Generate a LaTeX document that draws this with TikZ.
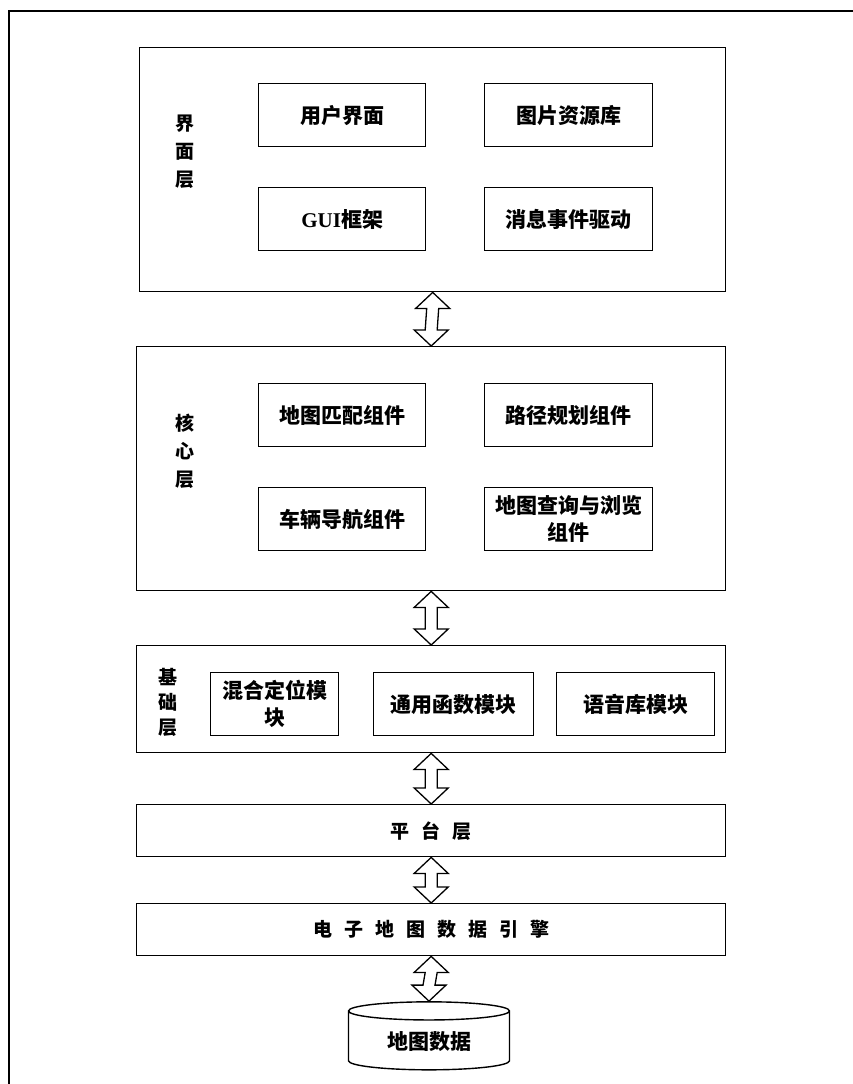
\documentclass[tikz,border=0pt]{standalone}
\usepackage{fontspec}
\setmainfont{Liberation Serif}
\newfontfamily\cjk{Noto Sans CJK SC}
\usetikzlibrary{calc,shapes.geometric}

% spacing between the letters of the wide captions
\newcommand\gp{\hspace{12pt}}

% hollow two-headed arrow from the bottom of #1 to the top of #2
\newcommand\dblarrow[2]{%
  \draw[fat] (#1.south)
    -- ($(#1.south)+(17,16)$) -- ($(#1.south)+(6,16)$)
    -- ($(#2.north)+(6,-16)$) -- ($(#2.north)+(17,-16)$)
    -- (#2.north)
    -- ($(#2.north)+(-17,-16)$) -- ($(#2.north)+(-6,-16)$)
    -- ($(#1.south)+(-6,16)$) -- ($(#1.south)+(-17,16)$) -- cycle;}

\tikzset{
  txt/.style={font=\cjk\bfseries\fontsize{21}{27}\selectfont},
  layer/.style={draw, line width=1.4pt, anchor=north west, inner sep=0pt,
    minimum width=589, font=\cjk\bfseries\fontsize{19}{25}\selectfont},
  comp/.style={draw, line width=1.4pt, anchor=north west, inner sep=0pt,
    minimum height=63, align=center, txt},
  lbl/.style={align=center, inner sep=0pt,
    font=\cjk\bfseries\fontsize{19}{28}\selectfont},
  fat/.style={draw, line width=1.3pt, fill=white, line join=miter},
}

\begin{document}
\begin{tikzpicture}[x=1pt, y=-1pt]
  \useasboundingbox (0,0) rectangle (853,1084);
  % outer frame (top and left only)
  \draw[line width=1.6pt] (9,1084) -- (9,11) -- (853,11);

  % interface layer
  \node[layer, minimum width=586, minimum height=244] (ui) at (139,47) {};
  \node[lbl] (uilbl) at (185,152) {界\\面\\层};
  \node[comp, minimum width=167] (uiA) at (258,83) {用户界面};
  \node[comp, minimum width=168] (uiB) at (484,83) {图片资源库};
  \node[comp, minimum width=167] (uiC) at (258,187) {{\rmfamily GUI}框架};
  \node[comp, minimum width=168] (uiD) at (484,187) {消息事件驱动};

  % core layer
  \node[layer, minimum height=244] (core) at (136,346) {};
  \node[lbl] (corelbl) at (185,451) {核\\心\\层};
  \node[comp, minimum width=167] (coreA) at (258,383) {地图匹配组件};
  \node[comp, minimum width=168] (coreB) at (484,383) {路径规划组件};
  \node[comp, minimum width=167] (coreC) at (258,487) {车辆导航组件};
  \node[comp, minimum width=168] (coreD) at (484,487) {地图查询与浏览\\组件};

  % base layer
  \node[layer, minimum height=107] (base) at (136,645) {};
  \node[lbl, font=\cjk\bfseries\fontsize{19}{25}\selectfont] (baselbl) at (168,702) {基\\础\\层};
  \node[comp, minimum width=128] (baseA) at (210,672) {混合定位模\\块};
  \node[comp, minimum width=160] (baseB) at (373,672) {通用函数模块};
  \node[comp, minimum width=158] (baseC) at (556,672) {语音库模块};

  % platform and map engine
  \node[layer, minimum height=52] (plat) at (136,804) {平\gp 台\gp 层};
  \node[layer, minimum height=52] (eng) at (136,903) {电\gp 子\gp 地\gp 图\gp 数\gp 据\gp 引\gp 擎};

  % map data store
  \node[cylinder, shape border rotate=90, draw, line width=1.4pt, aspect=0.2,
    minimum width=161, minimum height=68, txt] (db) at (429,1042) {地图数据};

  % links between the layers
  \dblarrow{ui}{core}
  \dblarrow{core}{base}
  \dblarrow{base}{plat}
  \dblarrow{plat}{eng}
  \dblarrow{eng}{db}
\end{tikzpicture}
\end{document}
